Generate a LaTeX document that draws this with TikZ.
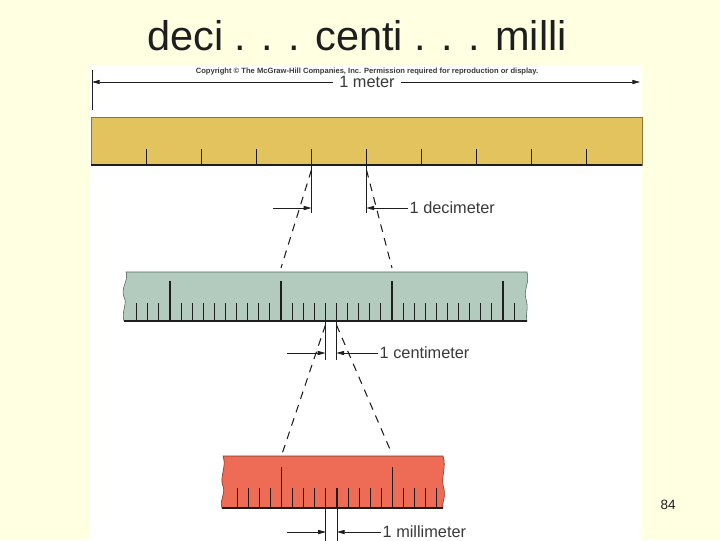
\documentclass[tikz,border=0pt]{standalone}
\usepackage{fontspec}
\setmainfont{Liberation Sans}
\usetikzlibrary{arrows.meta,calc}
\definecolor{slide}{HTML}{FFFFE1}
\definecolor{ink}{HTML}{1E1E1E}
\definecolor{muted}{HTML}{3A3A3A}
\definecolor{goldfill}{HTML}{E2C35E}
\definecolor{goldline}{HTML}{8C7635}
\definecolor{sagefill}{HTML}{B3CABE}
\definecolor{sageline}{HTML}{55645C}
\definecolor{redfill}{HTML}{EE6B55}
\definecolor{redline}{HTML}{7A3328}
\newcommand{\dimfont}{\fontsize{11.6}{13}\selectfont}
\tikzset{
 every node/.append style={text=ink,inner sep=1pt},
 tick/.style={draw=ink,line width=.75pt},
 edge/.style={draw=ink,line width=1.1pt},
 dimline/.style={draw=ink,line width=.6pt},
 dimarrow/.style={-{Triangle[length=5.5pt,width=3pt]},draw=ink,line width=.5pt},
 guide/.style={draw=ink,line width=.75pt,dash pattern=on 5.5pt off 4.5pt},
 dimlabel/.style={anchor=west,font=\dimfont,text=muted},
}

\begin{document}
\begin{tikzpicture}[x=0.025cm,y=-0.025cm]
\useasboundingbox (0,0) rectangle (720,540);
\fill[slide] (0,0) rectangle (720,540);
\fill[white] (90,65) rectangle (642,540);

\node[anchor=base,font=\fontsize{29.5}{32}\selectfont] (title) at (357,50)
  {deci . . . centi . . . milli};
\node[anchor=base,font=\fontsize{5.4}{6}\selectfont\bfseries,text=muted] (copy) at (367,73)
  {Copyright \textcopyright\ The McGraw-Hill Companies, Inc. Permission required for reproduction or display.};
\node[anchor=base,font=\fontsize{9.6}{11}\selectfont] (page) at (668,509) {84};

% 1 meter
\coordinate (mL) at (92,82);
\coordinate (mR) at (640,82);
\node[fill=white,inner xsep=4pt,font=\dimfont,text=muted] (meter) at (367,82) {1 meter};
\draw[dimarrow] (meter.west) -- (mL);
\draw[dimarrow] (meter.east) -- (mR);
\draw[dimline] (92,70) -- (92,110);

% meter stick
\draw[fill=goldfill,draw=goldline,line width=.4pt] (91,117) rectangle (642,165);
\draw[edge] (91,165) -- (642,165);
\foreach \i in {1,...,9}
  \draw[tick] ({91+55.1*\i},149) -- ({91+55.1*\i},165);

% 1 decimeter
\coordinate (dmA) at ({91+4*55.1},165);
\coordinate (dmB) at ({91+5*55.1},165);
\draw[dimline] (dmA) -- ++(0,48);
\draw[dimline] (dmB) -- ++(0,48);
\coordinate (dmtail) at (273,208);
\node[dimlabel] (dmlab) at (408,208) {1 decimeter};
\draw[dimarrow] (dmtail) -- (dmtail -| dmA);
\draw[dimarrow] (dmlab.west) -- (dmlab.west -| dmB);

% decimeter enlarged
\coordinate (cmMajA) at (281,268);
\coordinate (cmMajB) at (392,268);
\draw[guide] ($(dmA)+(0,5)$) -- (cmMajA);
\draw[guide] ($(dmB)+(0,5)$) -- (cmMajB);
\draw[fill=sagefill,draw=sageline,line width=.4pt]
  (126,272) -- (527,272)
  .. controls (530,283) and (523,290) .. (526,299)
  .. controls (529,309) and (525,315) .. (527,321)
  -- (124,321)
  .. controls (121,310) and (128,305) .. (124,297)
  .. controls (120,288) and (129,281) .. (126,272) -- cycle;
\draw[edge] (124,321) -- (527,321);
\foreach \j in {-13,...,21} {
  \pgfmathtruncatemacro\m{mod(\j+20,10)}
  \ifnum\m=0
    \draw[tick] ({281+11.1*\j},281) -- ({281+11.1*\j},321);
  \else
    \draw[tick] ({281+11.1*\j},303) -- ({281+11.1*\j},321);
  \fi
}

% 1 centimeter
\coordinate (cmA) at ({281+4*11.1},321);
\coordinate (cmB) at ({281+5*11.1},321);
\draw[dimline] (cmA) -- ++(0,39);
\draw[dimline] (cmB) -- ++(0,39);
\coordinate (cmtail) at (287,353);
\node[dimlabel] (cmlab) at (378,353) {1 centimeter};
\draw[dimarrow] (cmtail) -- (cmtail -| cmA);
\draw[dimarrow] (cmlab.west) -- (cmlab.west -| cmB);

% centimeter enlarged
\coordinate (mmMajA) at (282,454);
\coordinate (mmMajB) at (392,454);
\draw[guide] ($(cmA)+(0,4)$) -- (mmMajA);
\draw[guide] ($(cmB)+(0,4)$) -- (mmMajB);
\draw[fill=redfill,draw=redline,line width=.4pt]
  (223,456) -- (443,456)
  .. controls (447,467) and (440,478) .. (444,489)
  .. controls (446,499) and (441,504) .. (443,508)
  -- (222,508)
  .. controls (219,500) and (226,494) .. (223,486)
  .. controls (219,477) and (227,467) .. (223,456) -- cycle;
\draw[edge] (222,508) -- (443,508);
\foreach \k in {-4,...,14} {
  \pgfmathtruncatemacro\m{mod(\k+10,10)}
  \ifnum\m=0
    \draw[tick] ({281.5+11.1*\k},467) -- ({281.5+11.1*\k},508);
  \else
    \draw[tick] ({281.5+11.1*\k},488) -- ({281.5+11.1*\k},508);
  \fi
}

% 1 millimeter
\coordinate (mmA) at ({281.5+4*11.1},508);
\coordinate (mmB) at ({281.5+5*11.1},508);
\draw[dimline] (mmA) -- ++(0,34);
\draw[dimline] (mmB) -- ++(0,34);
\coordinate (mmtail) at (287,532);
\node[dimlabel] (mmlab) at (381,532) {1 millimeter};
\draw[dimarrow] (mmtail) -- (mmtail -| mmA);
\draw[dimarrow] (mmlab.west) -- (mmlab.west -| mmB);
\end{tikzpicture}
\end{document}
